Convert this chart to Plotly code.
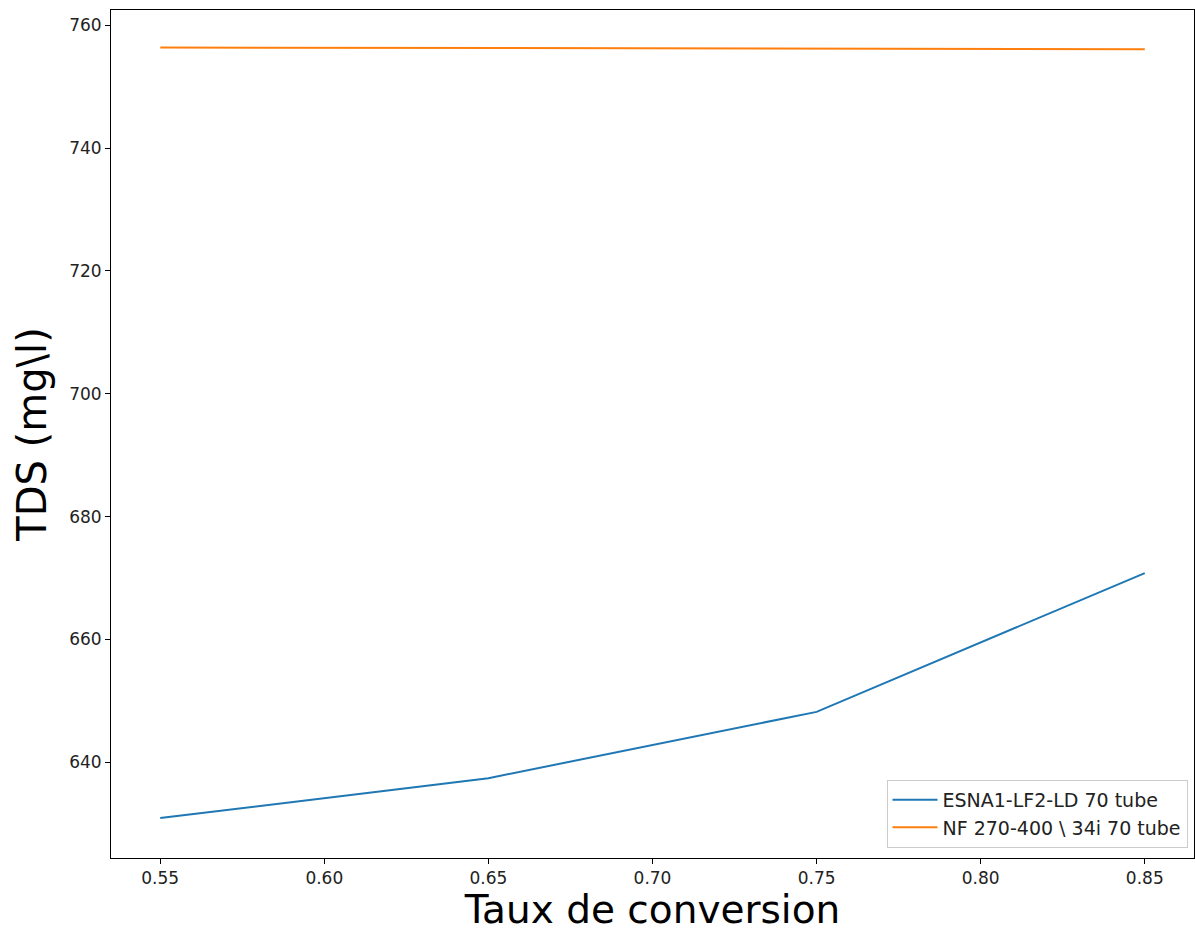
import plotly.graph_objects as go

# Conversion rate values (x) and TDS results per membrane configuration
taux_conversion = [0.55, 0.65, 0.75, 0.85]
tds_esna1 = [630.9, 637.4, 648.2, 670.8]
tds_nf270 = [756.4, 756.3, 756.25, 756.1]

serie_noms = ["ESNA1-LF2-LD 70 tube", "NF 270-400 \\ 34i 70 tube"]
serie_couleurs = ["#1f77b4", "#ff7f0e"]

x_ticks = [0.55, 0.60, 0.65, 0.70, 0.75, 0.80, 0.85]
x_tick_labels = ["0.55", "0.60", "0.65", "0.70", "0.75", "0.80", "0.85"]
y_ticks = [640, 660, 680, 700, 720, 740, 760]

fig = go.Figure()
for nom, ys, couleur in zip(serie_noms, [tds_esna1, tds_nf270], serie_couleurs):
    fig.add_trace(go.Scatter(
        x=taux_conversion, y=ys, mode="lines", name=nom,
        line=dict(color=couleur, width=2),
    ))

axis_common = dict(
    showline=True, linecolor="black", linewidth=1, mirror=True,
    ticks="outside", ticklen=5, tickwidth=1, tickcolor="black",
    showgrid=False, zeroline=False,
    tickfont=dict(family="DejaVu Sans", size=17, color="#222"),
)

fig.update_layout(
    width=1195, height=932,
    margin=dict(l=111, r=1, t=10, b=74),
    paper_bgcolor="white", plot_bgcolor="white",
    font=dict(family="DejaVu Sans", color="black"),
    xaxis=dict(
        range=[0.535, 0.865], tickvals=x_ticks, ticktext=x_tick_labels,
        title=dict(text="Taux de conversion", font=dict(size=39), standoff=6),
        **axis_common,
    ),
    yaxis=dict(
        range=[624.4, 762.5], tickvals=y_ticks,
        title=dict(text="TDS (mg\\l)", font=dict(size=40), standoff=10),
        **axis_common,
    ),
    legend=dict(
        x=0.994, y=0.012, xanchor="right", yanchor="bottom",
        bgcolor="rgba(255,255,255,0.8)", bordercolor="#cccccc", borderwidth=1,
        font=dict(family="DejaVu Sans", size=19, color="#222"),
        tracegroupgap=2, itemwidth=45,
    ),
    showlegend=True,
)

fig.write_html("out.html")
